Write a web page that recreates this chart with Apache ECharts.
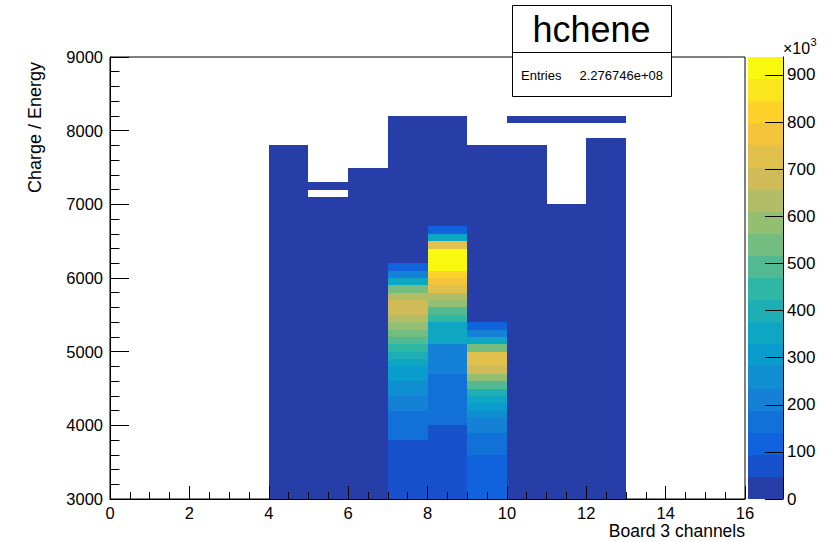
<!DOCTYPE html>
<html>
<head>
<meta charset="utf-8">
<script src="https://cdn.jsdelivr.net/npm/echarts@6/dist/echarts.min.js"></script>
<style>html,body{margin:0;padding:0;background:#fff}#c{width:832px;height:542px}</style>
</head>
<body>
<div id="c"></div>
<script>
// ---------------- data ----------------
const histTitle = 'hchene';
const entriesText = '2.276746e+08';
const xTitle = 'Board 3 channels';
const yTitle = 'Charge / Energy';
const xBinWidth = 1;
const yBinWidth = 100;
// lower edges of the Y bins (index 0 .. 59)
const yBinLow = [3000,3100,3200,3300,3400,3500,3600,3700,3800,3900,
                 4000,4100,4200,4300,4400,4500,4600,4700,4800,4900,
                 5000,5100,5200,5300,5400,5500,5600,5700,5800,5900,
                 6000,6100,6200,6300,6400,6500,6600,6700,6800,6900,
                 7000,7100,7200,7300,7400,7500,7600,7700,7800,7900,
                 8000,8100,8200,8300,8400,8500,8600,8700,8800,8900];
// bin contents (x10^3 entries), one list per channel, from the lowest Y bin up
const counts_ch4 = [12,12,12,12,12,12,12,12,12,12, 12,12,12,12,12,12,12,12,12,12,
                    12,12,12,12,12,12,12,12,12,12, 12,12,12,12,12,12,12,12,12,12,
                    12,12,12,12,12,12,12,12];
const counts_ch5 = [12,12,12,12,12,12,12,12,12,12, 12,12,12,12,12,12,12,12,12,12,
                    12,12,12,12,12,12,12,12,12,12, 12,12,12,12,12,12,12,12,12,12,
                    12,0,12];
const counts_ch6 = [12,12,12,12,12,12,12,12,12,12, 12,12,12,12,12,12,12,12,12,12,
                    12,12,12,12,12,12,12,12,12,12, 12,12,12,12,12,12,12,12,12,12,
                    12,12,12,12,12];
const counts_ch7 = [70,70,70,70,70,70,70,70,165,165, 165,165,210,210,260,260,305,305,350,400,
                    445,490,540,585,630,680,680,630,540,350, 210,115,12,12,12,12,12,12,12,12,
                    12,12,12,12,12,12,12,12,12,12, 12,12];
const counts_ch8 = [70,70,70,70,70,70,70,70,70,70, 165,165,165,165,165,165,165,210,210,210,
                    210,350,350,350,445,490,585,630,725,770, 820,905,936,920,725,350,115,12,12,12,
                    12,12,12,12,12,12,12,12,12,12, 12,12];
const counts_ch9 = [115,115,115,115,115,115,165,165,165,210, 210,260,305,350,400,490,585,680,725,725,
                    540,350,210,115,12,12,12,12,12,12, 12,12,12,12,12,12,12,12,12,12,
                    12,12,12,12,12,12,12,12];
const counts_ch10 = [12,12,12,12,12,12,12,12,12,12, 12,12,12,12,12,12,12,12,12,12,
                     12,12,12,12,12,12,12,12,12,12, 12,12,12,12,12,12,12,12,12,12,
                     12,12,12,12,12,12,12,12,0,0, 0,12];
const counts_ch11 = [12,12,12,12,12,12,12,12,12,12, 12,12,12,12,12,12,12,12,12,12,
                     12,12,12,12,12,12,12,12,12,12, 12,12,12,12,12,12,12,12,12,12,
                     0,0,0,0,0,0,0,0,0,0, 0,12];
const counts_ch12 = [12,12,12,12,12,12,12,12,12,12, 12,12,12,12,12,12,12,12,12,12,
                     12,12,12,12,12,12,12,12,12,12, 12,12,12,12,12,12,12,12,12,12,
                     12,12,12,12,12,12,12,12,12,0, 0,12];
const channels = [4,5,6,7,8,9,10,11,12];
const channelCounts = [counts_ch4,counts_ch5,counts_ch6,counts_ch7,counts_ch8,counts_ch9,counts_ch10,counts_ch11,counts_ch12];
const zMax = 938;            // colour axis maximum (x10^3)
const nContours = 20;
const colorTicks = [0,100,200,300,400,500,600,700,800,900];

// ---------------- palette (ROOT kBird) ----------------
const birdStops = [0.0,0.125,0.25,0.375,0.5,0.625,0.75,0.875,1.0];
const birdR = [0.2082,0.0592,0.0780,0.0232,0.1802,0.5301,0.8186,0.9956,0.9764];
const birdG = [0.1664,0.3599,0.5041,0.6419,0.7178,0.7492,0.7328,0.7862,0.9832];
const birdB = [0.5293,0.8684,0.8385,0.7914,0.6425,0.4662,0.3499,0.1968,0.0539];
function birdColor(t) {
  let s = 0;
  while (s < birdStops.length - 2 && t > birdStops[s + 1]) s++;
  const f = (t - birdStops[s]) / (birdStops[s + 1] - birdStops[s]);
  const c = (a) => Math.round(255 * (a[s] + (a[s + 1] - a[s]) * f));
  return 'rgb(' + c(birdR) + ',' + c(birdG) + ',' + c(birdB) + ')';
}
const bandWidth = zMax / nContours;
const bandColors = [];
for (let k = 0; k < nContours; k++) {
  bandColors.push(birdColor(Math.floor((k + 0.99) * 255 / nContours) / 255));
}

// ---------------- build series data ----------------
const cells = [];
channels.forEach((ch, ci) => {
  channelCounts[ci].forEach((v, i) => {
    if (v > 0) cells.push([ch, yBinLow[i], v]);
  });
});
const bands = [];
for (let k = 0; k < nContours; k++) bands.push([0, k * bandWidth, (k + 1) * bandWidth, k]);

const FONT = '"Liberation Sans", Arial, Helvetica, sans-serif';

function renderCell(params, api) {
  const x = api.value(0), y = api.value(1);
  const p0 = api.coord([x, y]);
  const p1 = api.coord([x + xBinWidth, y + yBinWidth]);
  const x0 = Math.round(p0[0]), x1 = Math.round(p1[0]);
  const y0 = Math.round(p0[1]), y1 = Math.round(p1[1]);
  return { type: 'rect', shape: { x: x0, y: y1, width: x1 - x0, height: y0 - y1 },
           style: { fill: api.visual('color'), stroke: null } };
}
function renderBand(params, api) {
  const lo = api.value(1), hi = api.value(2), k = api.value(3);
  const p0 = api.coord([0, lo]);
  const p1 = api.coord([1, hi]);
  const x0 = Math.round(p0[0]), x1 = Math.round(p1[0]);
  const y0 = Math.round(p0[1]), y1 = Math.round(p1[1]);
  return { type: 'rect', shape: { x: x0, y: y1, width: x1 - x0, height: y0 - y1 },
           style: { fill: bandColors[k], stroke: null } };
}
const plainNum = (v) => String(v);

const chart = echarts.init(document.getElementById('c'), null, { renderer: 'svg' });
const black = { color: '#000', width: 1 };
chart.setOption({
  animation: false,
  backgroundColor: '#fff',
  grid: [
    { left: 110, top: 57, width: 635, height: 442, show: true, borderColor: '#000', borderWidth: 1, backgroundColor: 'transparent', containLabel: false, outerBoundsMode: 'none' },
    { left: 748, top: 57, width: 35, height: 442, containLabel: false, outerBoundsMode: 'none' }
  ],
  xAxis: [
    { gridIndex: 0, type: 'value', min: 0, max: 16, interval: 2, z: 10,
      axisLine: { show: true, onZero: false, lineStyle: black },
      axisTick: { show: true, inside: true, length: 13, lineStyle: black },
      minorTick: { show: true, splitNumber: 4, length: 7, lineStyle: black },
      splitLine: { show: false }, minorSplitLine: { show: false },
      axisLabel: { color: '#000', fontSize: 16.5, fontFamily: FONT, margin: 5, formatter: plainNum } },
    { gridIndex: 1, type: 'value', min: 0, max: 1, show: false }
  ],
  yAxis: [
    { gridIndex: 0, type: 'value', min: 3000, max: 9000, interval: 1000, z: 10,
      axisLine: { show: true, onZero: false, lineStyle: black },
      axisTick: { show: true, inside: true, length: 19, lineStyle: black },
      minorTick: { show: true, splitNumber: 5, length: 9.5, lineStyle: black },
      splitLine: { show: false }, minorSplitLine: { show: false },
      axisLabel: { color: '#000', fontSize: 16.5, fontFamily: FONT, margin: 7, formatter: plainNum } },
    { gridIndex: 1, type: 'value', min: 0, max: zMax, position: 'right', z: 10,
      axisLine: { show: true, onZero: false, lineStyle: black },
      axisTick: { show: true, inside: true, length: 18, lineStyle: black, customValues: colorTicks },
      splitLine: { show: false },
      axisLabel: { color: '#000', fontSize: 17, fontFamily: FONT, margin: 4, customValues: colorTicks, formatter: plainNum } }
  ],
  visualMap: {
    type: 'piecewise', show: false, seriesIndex: 0, dimension: 2,
    pieces: bandColors.map((c, k) => (k === nContours - 1
      ? { gte: k * bandWidth, color: c }
      : { gte: k * bandWidth, lt: (k + 1) * bandWidth, color: c }))
  },
  series: [
    { type: 'custom', xAxisIndex: 0, yAxisIndex: 0, renderItem: renderCell,
      dimensions: ['x', 'y', 'z'], encode: { x: 0, y: 1 }, data: cells, z: 2 },
    { type: 'custom', xAxisIndex: 1, yAxisIndex: 1, renderItem: renderBand,
      encode: { x: 0, y: [1, 2] }, data: bands, z: 2 }
  ],
  graphic: [
    { type: 'text', x: 34.5, y: 62, rotation: Math.PI / 2, z: 50,
      style: { text: yTitle, fill: '#000', font: '18px ' + FONT, align: 'right', textAlign: 'right', verticalAlign: 'middle', textVerticalAlign: 'middle' } },
    { type: 'text', x: 745, y: 530.5, z: 50,
      style: { text: xTitle, fill: '#000', font: '17.5px ' + FONT, align: 'right', textAlign: 'right', verticalAlign: 'middle', textVerticalAlign: 'middle' } },
    { type: 'text', x: 783, y: 48, z: 50,
      style: { text: '×10', fill: '#000', font: '16px ' + FONT, align: 'left', textAlign: 'left', verticalAlign: 'middle', textVerticalAlign: 'middle' } },
    { type: 'text', x: 810.5, y: 42, z: 50,
      style: { text: '3', fill: '#000', font: '11px ' + FONT, align: 'left', textAlign: 'left', verticalAlign: 'middle', textVerticalAlign: 'middle' } },
    { type: 'rect', z: 100, shape: { x: 512.5, y: 5.5, width: 159, height: 91 },
      style: { fill: '#fff', stroke: '#000', lineWidth: 1 } },
    { type: 'line', z: 101, shape: { x1: 512.5, y1: 52.5, x2: 671.5, y2: 52.5 },
      style: { stroke: '#000', lineWidth: 1 } },
    { type: 'text', x: 591.5, y: 29, z: 101,
      style: { text: histTitle, fill: '#000', font: '36px ' + FONT, align: 'center', textAlign: 'center', verticalAlign: 'middle', textVerticalAlign: 'middle' } },
    { type: 'text', x: 521, y: 75, z: 101,
      style: { text: 'Entries', fill: '#000', font: '13px ' + FONT, align: 'left', textAlign: 'left', verticalAlign: 'middle', textVerticalAlign: 'middle' } },
    { type: 'text', x: 663, y: 75, z: 101,
      style: { text: entriesText, fill: '#000', font: '13px ' + FONT, align: 'right', textAlign: 'right', verticalAlign: 'middle', textVerticalAlign: 'middle' } }
  ]
});
</script>
</body>
</html>
